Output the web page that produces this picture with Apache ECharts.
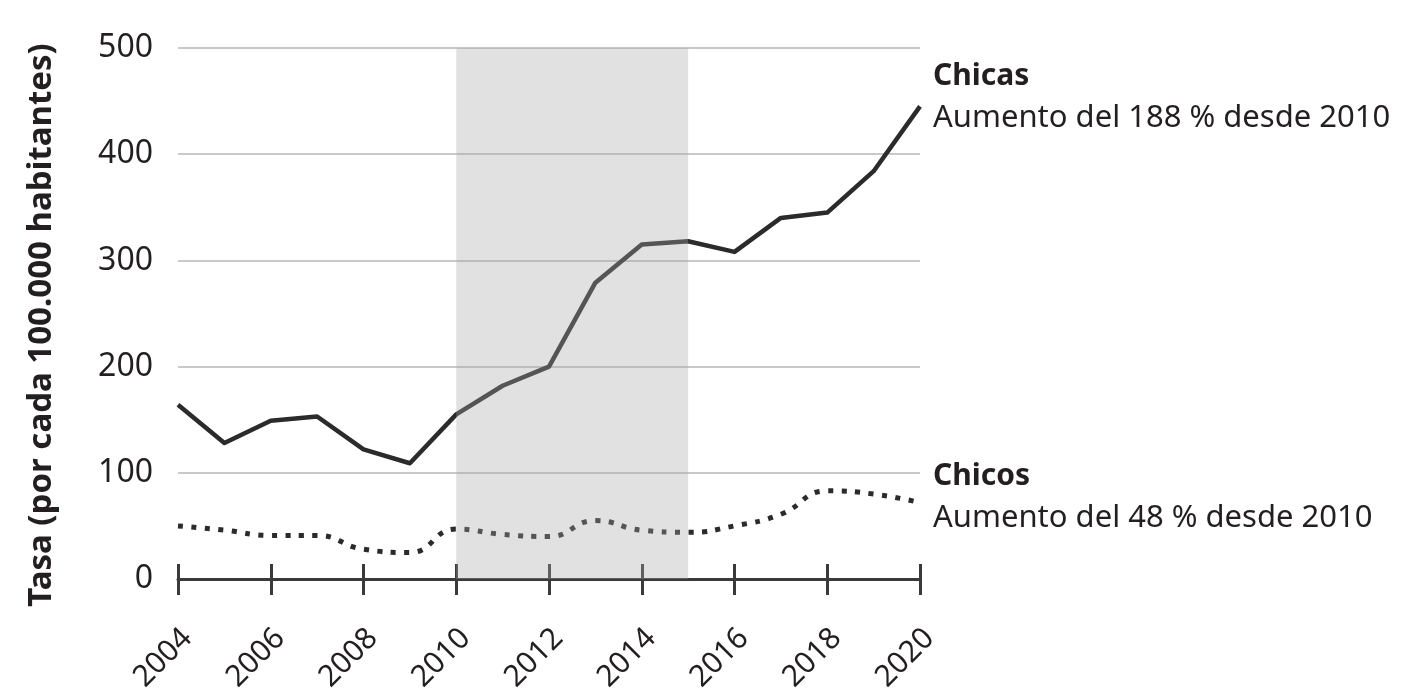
<!DOCTYPE html>
<html>
<head>
<meta charset="utf-8">
<script src="https://cdn.jsdelivr.net/npm/echarts@6/dist/echarts.min.js"></script>
<style>html,body{margin:0;padding:0;background:#fff}#c{width:1427px;height:700px}</style>
</head>
<body>
<div id="c"></div>
<script>
const years = ['2004','2005','2006','2007','2008','2009','2010','2011','2012','2013','2014','2015','2016','2017','2018','2019','2020'];
const chicas = [164,128,149,153,122,109,155,182,200,279,315,318,308,340,345,384,445];
const chicos = [50,46,41,41,28,25,47,42,40,55,46,44,50,61,83,80,72];
const yMin = 0, yMax = 500, yStep = 100;
const shadeFrom = '2010', shadeTo = '2015';
const yTitle = 'Tasa (por cada 100.000 habitantes)';
const chicasLabel = ['Chicas', 'Aumento del 188 % desde 2010'];
const chicosLabel = ['Chicos', 'Aumento del 48 % desde 2010'];

const FONT = '"Noto Sans", "Open Sans", sans-serif';
const INK = '#231f20';
const LINE = '#2b2b2b';

const chart = echarts.init(document.getElementById('c'));
const rich = {
  t: {fontFamily: FONT, fontWeight: 'bold', fontSize: 30, color: INK, lineHeight: 42},
  s: {fontFamily: FONT, fontSize: 31, color: INK, lineHeight: 42}
};
chart.setOption({
  animation: false,
  backgroundColor: '#fff',
  grid: {left: 178, right: 507, top: 48, bottom: 121, containLabel: false},
  xAxis: [{
    type: 'category', data: years, boundaryGap: false,
    axisLine: {lineStyle: {color: '#3a3a3a', width: 3}},
    axisTick: {show: true, interval: 1, length: 16, lineStyle: {color: '#3a3a3a', width: 3}},
    axisLabel: {interval: 1, rotate: 45, align: 'center', verticalAlign: 'middle', margin: 64,
      padding: [0, 42, 0, 0], fontFamily: FONT, fontSize: 30, color: INK},
    splitLine: {show: false}
  }, {
    type: 'category', data: years, boundaryGap: false, position: 'bottom',
    axisLine: {show: false},
    axisTick: {show: true, inside: true, interval: 1, length: 15, lineStyle: {color: '#3a3a3a', width: 3}},
    axisLabel: {show: false},
    splitLine: {show: false}
  }],
  yAxis: {
    type: 'value', min: yMin, max: yMax, interval: yStep,
    axisLine: {show: false}, axisTick: {show: false},
    axisLabel: {fontFamily: FONT, fontSize: 32, color: INK, margin: 25},
    splitLine: {lineStyle: {color: '#c9c9c9', width: 2}}
  },
  graphic: [{
    type: 'text', x: 42, y: 325, rotation: Math.PI / 2,
    style: {text: yTitle, font: 'bold 33px ' + FONT, fill: INK, textAlign: 'center', textVerticalAlign: 'middle'}
  }],
  series: [{
    name: 'Chicas', type: 'line', data: chicas, symbol: 'none', z: 2,
    lineStyle: {color: LINE, width: 4.5, join: 'round'},
    endLabel: {show: true, distance: 13, offset: [0, -9], align: 'left', verticalAlign: 'middle',
      formatter: () => '{t|' + chicasLabel[0] + '}\n{s|' + chicasLabel[1] + '}', rich: rich}
  }, {
    name: 'Chicos', type: 'line', data: chicos, symbol: 'none', smooth: 0.5, z: 2,
    lineStyle: {color: LINE, width: 5, type: [5, 8.5], cap: 'butt'},
    endLabel: {show: true, distance: 13, offset: [0, -5], align: 'left', verticalAlign: 'middle',
      formatter: () => '{t|' + chicosLabel[0] + '}\n{s|' + chicosLabel[1] + '}', rich: rich}
  }, {
    name: 'shade', type: 'line', data: [], z: 10, silent: true,
    markArea: {silent: true, z: 10, itemStyle: {color: 'rgba(166,167,170,0.34)'},
      data: [[{xAxis: shadeFrom, yAxis: yMin}, {xAxis: shadeTo, yAxis: yMax}]]}
  }]
});
</script>
</body>
</html>
